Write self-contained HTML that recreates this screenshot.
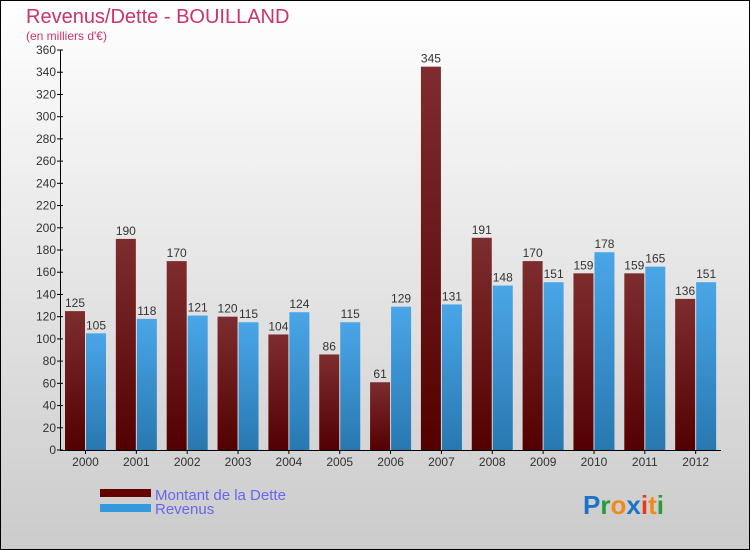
<!DOCTYPE html>
<html><head><meta charset="utf-8"><style>
body{margin:0}
#c{width:750px;height:550px;position:relative;overflow:hidden;font-family:"Liberation Sans",sans-serif}
</style></head><body>
<div id="c">
<svg width="750" height="550" xmlns="http://www.w3.org/2000/svg">
<defs>
<linearGradient id="bg" x1="0" y1="0" x2="0" y2="1"><stop offset="0" stop-color="#ffffff"/><stop offset="1" stop-color="#cbcbcb"/></linearGradient>
<linearGradient id="gd" x1="0" y1="0" x2="0" y2="1"><stop offset="0" stop-color="#7e2d2f"/><stop offset="1" stop-color="#530000"/></linearGradient>
<linearGradient id="gr" x1="0" y1="0" x2="0" y2="1"><stop offset="0" stop-color="#4aa6e8"/><stop offset="1" stop-color="#2878b0"/></linearGradient>
</defs>
<rect x="0.5" y="0.5" width="749" height="549" fill="url(#bg)" stroke="#000"/>
<text x="26" y="23" font-size="20" fill="#cc3366">Revenus/Dette - BOUILLAND</text>
<text x="26" y="40" font-size="12" fill="#cc3366">(en milliers d'€)</text>
<g id="plot"></g>
<rect x="100" y="489" width="51" height="8" fill="#640000"/>
<rect x="100" y="504" width="51" height="8" fill="#3399dd"/>
<text x="155" y="500" font-size="15" fill="#6666ee">Montant de la Dette</text>
<text x="155" y="514" font-size="15" fill="#6666ee">Revenus</text>
<text x="583" y="514" font-size="26" font-weight="bold"><tspan fill="#1a73c9">P</tspan><tspan fill="#2a9a3a">r</tspan><tspan fill="#f08a1c">o</tspan><tspan fill="#1a73c9">x</tspan><tspan fill="#e83a1a">i</tspan><tspan fill="#f08a1c">t</tspan><tspan fill="#2a9a3a">i</tspan></text>
</svg>
</div>
<script>
const categories=["2000","2001","2002","2003","2004","2005","2006","2007","2008","2009","2010","2011","2012"];
const dette=[125,190,170,120,104,86,61,345,191,170,159,159,136];
const revenus=[105,118,121,115,124,115,129,131,148,151,178,165,151];
const yTicks=[0,20,40,60,80,100,120,140,160,180,200,220,240,260,280,300,320,340,360];
const NS="http://www.w3.org/2000/svg";
const g=document.getElementById('plot');
const x0=60,x1=721,y0=450,y1=50,yMax=360;
const cw=(x1-x0)/categories.length;
const ys=v=>y0-(v/yMax)*(y0-y1);
function mk(t,a,txt){const e=document.createElementNS(NS,t);for(const k in a)e.setAttribute(k,a[k]);if(txt!==undefined)e.textContent=txt;g.appendChild(e);return e;}
categories.forEach((c,i)=>{
 const s=x0+i*cw;
 let r=mk('rect',{x:s+5,y:ys(dette[i]),width:20,height:y0-ys(dette[i]),fill:'url(#gd)'});
 
 
 let r2=mk('rect',{x:s+26,y:ys(revenus[i]),width:20,height:y0-ys(revenus[i]),fill:'url(#gr)'});
 
 
 let t=mk('text',{x:s+15,y:ys(dette[i])-4,'font-size':12,fill:'#333','text-anchor':'middle'},dette[i]);
 
 
 let t2=mk('text',{x:s+36,y:ys(revenus[i])-4,'font-size':12,fill:'#333','text-anchor':'middle'},revenus[i]);
 
 
 let l=mk('text',{x:s+25.5,y:466,'font-size':12,fill:'#333','text-anchor':'middle'},c);
 
 
 mk('line',{x1:s+25.5,x2:s+25.5,y1:450,y2:454,stroke:'#000'});
});
yTicks.forEach(v=>{
 mk('line',{x1:57,x2:63,y1:ys(v),y2:ys(v),stroke:'#000'});
 let t=mk('text',{x:56,y:ys(v)+4,'font-size':12,fill:'#333','text-anchor':'end'},v);
 
 
});
let ax=mk('line',{x1:60.5,x2:60.5,y1:50,y2:450,stroke:'#000'});


let bx=mk('line',{x1:60,x2:721,y1:450.5,y2:450.5,stroke:'#000'});


</script>
</body></html>
